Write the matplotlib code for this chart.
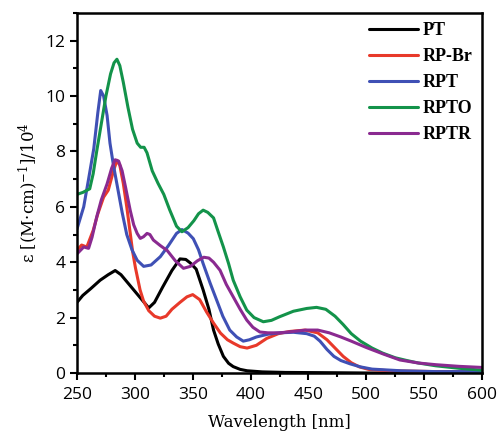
import matplotlib
matplotlib.use('Agg')
import matplotlib.pyplot as plt
from matplotlib.ticker import MultipleLocator

# data (wavelength nm, epsilon / 10^4)
wl_pt = [250, 255, 262, 270, 277, 283, 288, 293, 300, 307, 312, 317, 324, 332, 339, 344, 348, 353, 359, 364,
         368, 372, 376.5, 381, 385, 391, 397, 410, 430, 470, 500, 600]
pt = [2.55, 2.8, 3.05, 3.35, 3.55, 3.7, 3.55, 3.3, 2.95, 2.6, 2.35, 2.55, 3.1, 3.7, 4.12, 4.1, 3.97, 3.75, 3.0, 2.3,
      1.55, 1.05, 0.6, 0.35, 0.23, 0.13, 0.08, 0.04, 0.02, 0.01, 0.0, 0.0]

wl_rpbr = [250, 254, 258.5, 264, 268, 273, 277, 281.5, 284.6, 287, 290, 293, 296, 298, 300.5, 304.5, 307.5, 312,
           317, 322, 327, 332, 339, 345, 350, 356, 362, 368, 374, 380, 385, 391, 397, 405, 414, 424, 434, 447,
           458, 466, 473, 480, 487, 494, 502, 520, 560, 600]
rpbr = [4.43, 4.62, 4.55, 5.15, 5.75, 6.35, 6.6, 7.3, 7.68, 7.5, 6.85, 6.0, 5.05, 4.4, 3.8, 3.0, 2.6, 2.25,
        2.05, 1.98, 2.05, 2.3, 2.55, 2.75, 2.83, 2.65, 2.2, 1.8, 1.44, 1.2, 1.08, 0.95, 0.9, 1.0, 1.25, 1.42, 1.5, 1.55,
        1.45, 1.2, 0.9, 0.6, 0.37, 0.22, 0.13, 0.08, 0.05, 0.05]

wl_rpt = [250, 255.8, 260, 264.5, 268, 270.5, 273, 276, 278.5, 281.5, 284.6, 289, 293, 297.5, 302, 307.6, 314,
          322, 329, 336, 340.7, 346, 350.5, 355, 359, 365, 370.7, 376, 382, 388, 393.7, 399, 405, 415, 425, 437,
          448.5, 455, 460, 466, 472, 478, 486, 495, 505, 530, 560, 600]
rpt = [5.2, 6.0, 7.0, 8.1, 9.4, 10.2, 10.0, 9.3, 8.3, 7.5, 6.8, 5.8, 5.0, 4.45, 4.07, 3.85, 3.9,
       4.2, 4.6, 5.04, 5.18, 5.05, 4.85, 4.45, 3.95, 3.25, 2.63, 2.05, 1.55, 1.3, 1.15, 1.2, 1.3, 1.4, 1.45, 1.47,
       1.42, 1.33, 1.15, 0.85, 0.6, 0.45, 0.33, 0.22, 0.14, 0.08, 0.05, 0.05]

wl_rpto = [250, 255, 261, 264, 267, 271, 275, 279, 282, 284.5, 287, 290, 294, 298, 302, 305, 308, 310.5, 315,
           320, 325, 330, 336, 340.7, 346, 351, 355, 359, 363, 368, 372, 376.5, 381, 385, 391, 396.7, 403, 411,
           418, 425, 437, 448.5, 457, 465, 473, 480, 487, 495, 505, 514, 525, 535, 545, 560, 580, 600]
rpto = [6.45, 6.52, 6.65, 7.2, 8.0, 9.0, 10.0, 10.8, 11.2, 11.33, 11.1, 10.5, 9.6, 8.8, 8.3, 8.15, 8.15, 7.95, 7.3,
        6.85, 6.45, 5.9, 5.3, 5.1, 5.25, 5.5, 5.75, 5.88, 5.8, 5.6, 5.1, 4.55, 3.95, 3.35, 2.75, 2.27, 2.0, 1.85,
        1.9, 2.03, 2.23, 2.33, 2.37, 2.3, 2.05, 1.75, 1.42, 1.15, 0.9, 0.72, 0.55, 0.45, 0.36, 0.26, 0.17, 0.1]

wl_rptr = [250, 255.8, 260, 263, 267, 271, 276, 280, 283, 286, 289, 292, 296, 299, 302, 304.7, 307.5, 310.5, 313,
           316, 322, 328, 335, 342, 348, 354, 359.5, 364, 368, 373.6, 379, 385, 391, 396.7, 402, 408, 415, 425,
           437, 448, 458, 468, 478, 487, 500, 515, 529, 545, 560, 580, 600]
rptr = [4.3, 4.55, 4.5, 4.9, 5.63, 6.25, 6.83, 7.4, 7.7, 7.65, 7.3, 6.7, 5.87, 5.35, 5.04, 4.86, 4.92, 5.04, 5.0,
        4.8, 4.6, 4.42, 4.05, 3.78, 3.85, 4.05, 4.18, 4.15, 4.0, 3.71, 3.2, 2.75, 2.3, 1.91, 1.65, 1.48, 1.45, 1.45,
        1.5, 1.55, 1.55, 1.45, 1.3, 1.15, 0.92, 0.68, 0.47, 0.36, 0.3, 0.24, 0.2]

plt.rcParams['mathtext.fontset'] = 'dejavuserif'

fig = plt.figure(figsize=(4.99, 4.33), dpi=100)
ax = fig.add_axes([0.1543, 0.1386, 0.8117, 0.8314])

style = dict(lw=2.2, solid_joinstyle='round', solid_capstyle='round')
ax.plot(wl_pt, pt, color='black', label='PT', **style)
ax.plot(wl_rpbr, rpbr, color='#e8392a', label='RP-Br', **style)
ax.plot(wl_rpt, rpt, color='#3f50b5', label='RPT', **style)
ax.plot(wl_rpto, rpto, color='#13934a', label='RPTO', **style)
ax.plot(wl_rptr, rptr, color='#8a2a90', label='RPTR', **style)

ax.set_xlim(250, 600)
ax.set_ylim(0, 13)
ax.xaxis.set_major_locator(MultipleLocator(50))
ax.xaxis.set_minor_locator(MultipleLocator(25))
ax.yaxis.set_major_locator(MultipleLocator(2))
ax.yaxis.set_minor_locator(MultipleLocator(1))
ax.tick_params(which='major', direction='out', length=5, width=1.5, labelsize=12.5)
ax.tick_params(axis='x', which='major', pad=5)
ax.tick_params(which='minor', direction='out', length=3, width=1.5)
for lab in ax.get_xticklabels() + ax.get_yticklabels():
    lab.set_family('Open Sans')
for s in ax.spines.values():
    s.set_linewidth(1.8)

ax.set_xlabel('Wavelength [nm]', family='DejaVu Serif', fontsize=12, labelpad=8)
ax.set_ylabel(r'ε [(M·cm)$^{-1}$]/10$^4$', family='DejaVu Serif', fontsize=12, labelpad=4)

leg = ax.legend(loc='upper right', frameon=False, handlelength=2.7, handletextpad=0.3,
                labelspacing=0.5, borderaxespad=0.1,
                prop={'family': 'Liberation Serif', 'weight': 'bold', 'size': 13})

fig.savefig('out.png', dpi=100)
